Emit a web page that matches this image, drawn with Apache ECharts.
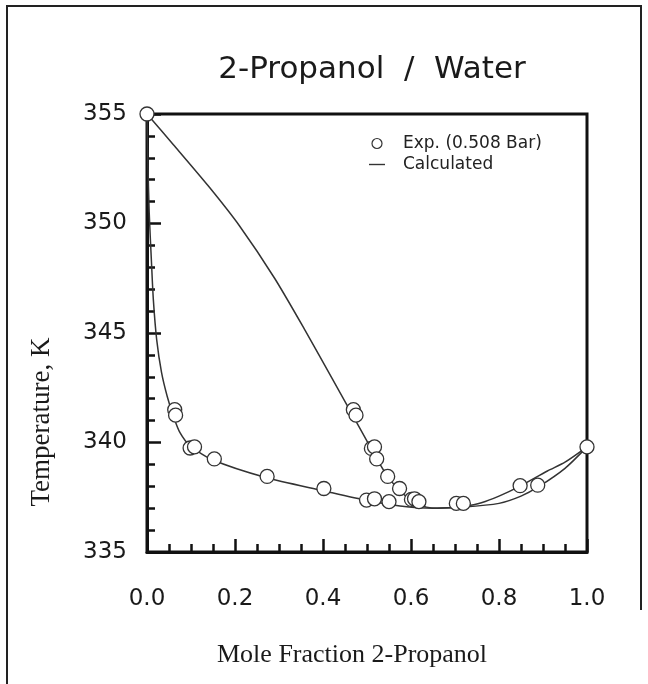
<!DOCTYPE html>
<html>
<head>
<meta charset="utf-8">
<script src="https://cdn.jsdelivr.net/npm/echarts@6/dist/echarts.min.js"></script>
<style>
  html, body { margin: 0; padding: 0; background: #fff; }
  #chart { width: 648px; height: 684px; }
</style>
</head>
<body>
<div id="chart"></div>
<script>
// Experimental points (mole fraction, temperature K)
const expX = [0.0, 0.063, 0.065, 0.098, 0.108, 0.153, 0.273, 0.402, 0.469, 0.475, 0.499, 0.517,
  0.510, 0.517, 0.522, 0.547, 0.550, 0.574, 0.601, 0.608, 0.618, 0.703, 0.719, 0.848, 0.888, 1.0];
const expT = [355.0, 341.5, 341.25, 339.75, 339.8, 339.25, 338.45, 337.9, 341.5, 341.25, 337.37, 337.43,
  339.73, 339.8, 339.25, 338.45, 337.3, 337.9, 337.4, 337.43, 337.3, 337.22, 337.22, 338.03, 338.05, 339.8];

// Calculated bubble curve (lower)
const bubbleX = [0, 0.002, 0.005, 0.01, 0.0145, 0.022, 0.033, 0.046, 0.06, 0.075, 0.098, 0.15, 0.27,
  0.40, 0.50, 0.575, 0.65, 0.72, 0.80, 0.85, 0.89, 0.95, 1.0];
const bubbleT = [355, 352.8, 350.5, 348.3, 346.5, 344.7, 343.2, 342.1, 341.2, 340.45, 339.85, 339.2, 338.4,
  337.8, 337.35, 337.1, 337.0, 337.05, 337.22, 337.55, 337.98, 338.82, 339.8];

// Calculated dew curve (upper)
const dewX = [0, 0.06, 0.14, 0.21, 0.29, 0.36, 0.42, 0.47, 0.51, 0.545, 0.575, 0.605, 0.635, 0.66,
  0.69, 0.72, 0.76, 0.80, 0.85, 0.91, 0.95, 1.0];
const dewT = [355, 353.6, 351.7, 349.9, 347.5, 345.1, 342.95, 341.15, 339.7, 338.5, 337.8, 337.3, 337.05, 337.0,
  337.02, 337.08, 337.25, 337.55, 338.03, 338.7, 339.1, 339.8];

const pairs = (xs, ys) => xs.map((x, i) => [x, ys[i]]);

const chart = echarts.init(document.getElementById('chart'));

const sans = 'DejaVu Sans';

const option = {
  animation: false,
  backgroundColor: '#fff',
  title: {
    text: '2-Propanol  /  Water',
    left: 367,
    top: 49,
    textAlign: 'center',
    textStyle: { fontFamily: sans, fontSize: 31, fontWeight: 'normal', color: '#1a1a1a' }
  },
  legend: {
    orient: 'vertical',
    left: 364,
    top: 130,
    itemWidth: 16,
    itemHeight: 10,
    itemGap: 4,
    textStyle: { fontFamily: sans, fontSize: 17, lineHeight: 17, color: '#222', padding: [0, 0, 0, 13] },
    data: [
      { name: 'Exp. (0.508 Bar)', icon: 'circle',
        itemStyle: { color: '#fff', borderColor: '#333', borderWidth: 1.2 } },
      { name: 'Calculated', icon: 'path://M0,0H16V1.4H0Z' }
    ]
  },
  grid: {
    left: 147, right: 61, top: 114, bottom: 132,
    show: true, borderColor: '#111', borderWidth: 3, backgroundColor: 'transparent'
  },
  xAxis: {
    type: 'value', min: 0, max: 1, interval: 0.2,
    axisLine: { lineStyle: { color: '#111', width: 3 } },
    axisTick: { inside: true, length: 13, lineStyle: { color: '#111', width: 2.5 } },
    minorTick: { show: true, splitNumber: 4, length: 8, lineStyle: { color: '#111', width: 2.5 } },
    splitLine: { show: false },
    axisLabel: { margin: 36, fontFamily: sans, fontSize: 23, color: '#1a1a1a',
      formatter: v => v.toFixed(1) }
  },
  yAxis: {
    type: 'value', min: 335, max: 355, interval: 5,
    axisLine: { show: true, lineStyle: { color: '#111', width: 3 } },
    axisTick: { show: true, inside: true, length: 14, lineStyle: { color: '#111', width: 2.5 } },
    minorTick: { show: true, splitNumber: 5, length: 8, lineStyle: { color: '#111', width: 2.5 } },
    splitLine: { show: false },
    axisLabel: { margin: 20, fontFamily: sans, fontSize: 23, color: '#1a1a1a' }
  },
  graphic: [
    { type: 'polyline', silent: true,
      shape: { points: [[641, 610], [641, 6], [7, 6], [7, 690]] },
      style: { stroke: '#222', lineWidth: 2, fill: null } },
    { type: 'text', left: 367 - 150, top: 642, silent: true,
      style: { text: 'Mole Fraction 2-Propanol', width: 300, align: 'center',
        font: '26px "Liberation Serif"', fill: '#1a1a1a' } },
    { type: 'text', x: 42, y: 422, rotation: Math.PI / 2, silent: true,
      style: { text: 'Temperature, K', align: 'center', verticalAlign: 'middle',
        font: '27px "Liberation Serif"', fill: '#1a1a1a' } }
  ],
  series: [
    { name: 'Calculated', type: 'line', data: pairs(bubbleX, bubbleT),
      smooth: 0.25, showSymbol: false, symbol: 'none',
      lineStyle: { color: '#333', width: 1.5 }, itemStyle: { color: '#333' }, z: 2 },
    { name: 'Calculated', type: 'line', data: pairs(dewX, dewT),
      smooth: 0.25, showSymbol: false, symbol: 'none',
      lineStyle: { color: '#333', width: 1.5 }, itemStyle: { color: '#333' }, z: 2 },
    { name: 'Exp. (0.508 Bar)', type: 'scatter', data: pairs(expX, expT),
      symbol: 'circle', symbolSize: 14, clip: false,
      itemStyle: { color: '#fff', borderColor: '#333', borderWidth: 1.3, opacity: 1 }, z: 5 }
  ]
};

chart.setOption(option);
</script>
</body>
</html>
